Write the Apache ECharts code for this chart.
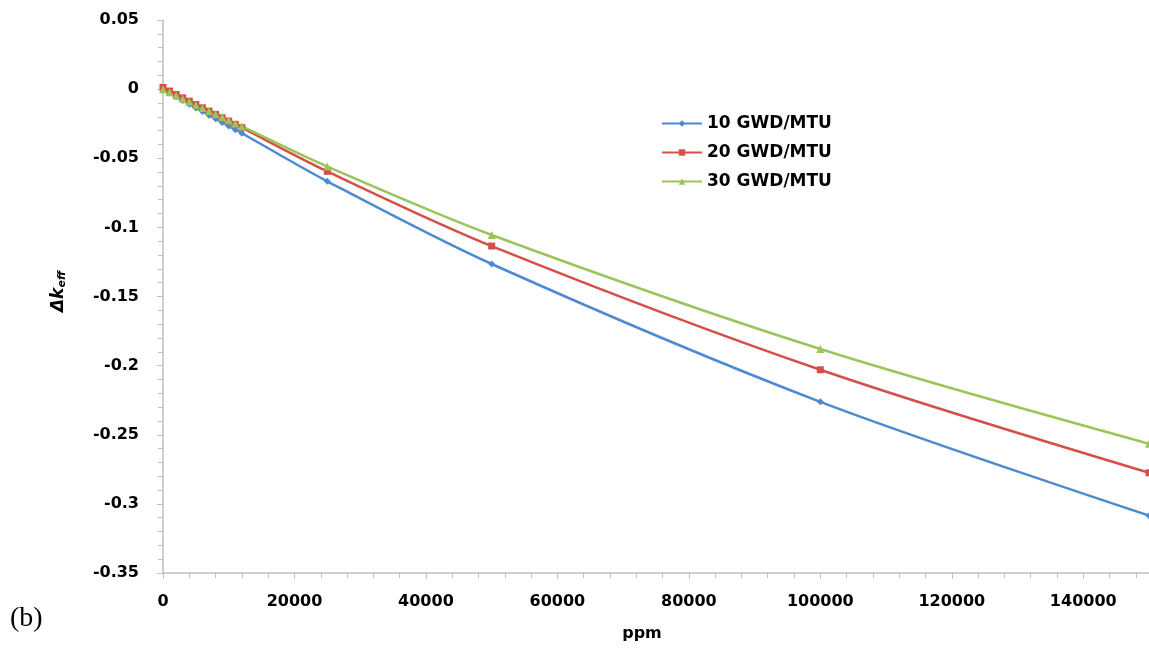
<!DOCTYPE html>
<html>
<head>
<meta charset="utf-8">
<script src="https://cdn.jsdelivr.net/npm/echarts@6/dist/echarts.min.js"></script>
<style>
  html, body { margin: 0; padding: 0; background: #fff; }
  #chart { width: 1149px; height: 650px; }
</style>
</head>
<body>
<div id="chart"></div>
<script>
// ppm sample points
var ppm = [0, 1000, 2000, 3000, 4000, 5000, 6000, 7000, 8000, 9000, 10000, 11000, 12000, 25000, 50000, 100000, 150000];

// delta k_eff
var gwd10 = [0, -0.0028, -0.0055, -0.0082, -0.0109, -0.0136, -0.0162, -0.0189, -0.0215, -0.0241, -0.0267, -0.0293, -0.0319, -0.0667, -0.1265, -0.2262, -0.3085];
var gwd20 = [0.0012, -0.0014, -0.0039, -0.0063, -0.0087, -0.0111, -0.0135, -0.0159, -0.0183, -0.0207, -0.0231, -0.0255, -0.0279, -0.0595, -0.1135, -0.2030, -0.2775];
var gwd30 = [0, -0.0023, -0.0046, -0.0069, -0.0091, -0.0114, -0.0136, -0.0159, -0.0181, -0.0203, -0.0226, -0.0248, -0.0270, -0.0560, -0.1055, -0.1880, -0.2565];

var seriesNames = ['10 GWD/MTU', '20 GWD/MTU', '30 GWD/MTU'];

function pairs(ys) {
  var out = [];
  for (var i = 0; i < ppm.length; i++) out.push([ppm[i], ys[i]]);
  return out;
}

var axisGrey = '#bfbfbf';
var labelFont = { fontFamily: 'DejaVu Sans', fontWeight: 'bold', fontSize: 16, color: '#000' };

var chart = echarts.init(document.getElementById('chart'));

var option = {
  animation: false,
  color: ['#4E8AD2', '#D55048', '#9BC45A'],
  grid: { left: 163, top: 20, right: 0, bottom: 77, containLabel: false },
  legend: {
    orient: 'vertical',
    left: 656,
    top: 110,
    itemWidth: 40,
    itemHeight: 8,
    itemGap: 12,
    textStyle: { fontFamily: 'DejaVu Sans', fontWeight: 'bold', fontSize: 17, color: '#000' },
    data: seriesNames
  },
  xAxis: {
    type: 'value',
    min: 0,
    max: 150000,
    interval: 20000,
    name: 'ppm',
    nameLocation: 'middle',
    nameGap: 53,
    nameTextStyle: Object.assign({ padding: [0, 28, 0, 0] }, labelFont),
    axisLine: { show: true, onZero: false, lineStyle: { color: axisGrey, width: 1.5 } },
    axisTick: { show: true, length: 6, lineStyle: { color: axisGrey } },
    minorTick: { show: true, splitNumber: 5, length: 5, lineStyle: { color: axisGrey } },
    axisLabel: Object.assign({ margin: 21, showMaxLabel: false, formatter: function (v) { return String(v); } }, labelFont),
    splitLine: { show: false }
  },
  yAxis: {
    type: 'value',
    min: -0.35,
    max: 0.05,
    interval: 0.05,
    name: '{a|Δk}{b|eff}',
    nameLocation: 'middle',
    nameRotate: 90,
    nameGap: 95,
    nameTextStyle: {
      padding: [0, 0, 0, 10],
      rich: {
        a: { fontFamily: 'DejaVu Sans', fontWeight: 'bold', fontStyle: 'italic', fontSize: 17, color: '#000' },
        b: { fontFamily: 'DejaVu Sans', fontWeight: 'bold', fontStyle: 'italic', fontSize: 11, color: '#000', padding: [8, 0, 0, 0] }
      }
    },
    axisLine: { show: true, onZero: false, lineStyle: { color: axisGrey, width: 1.5 } },
    axisTick: { show: true, length: 6, lineStyle: { color: axisGrey } },
    minorTick: { show: true, splitNumber: 5, length: 5, lineStyle: { color: axisGrey } },
    axisLabel: Object.assign({ margin: 24, formatter: function (v) { return String(Math.round(v * 100) / 100); } }, labelFont),
    splitLine: { show: false }
  },
  series: [
    {
      name: seriesNames[0], type: 'line', smooth: 0.3,
      symbol: 'diamond', symbolSize: 7,
      lineStyle: { width: 2.5 },
      data: pairs(gwd10)
    },
    {
      name: seriesNames[1], type: 'line', smooth: 0.3,
      symbol: 'rect', symbolSize: 7,
      lineStyle: { width: 2.5 },
      data: pairs(gwd20)
    },
    {
      name: seriesNames[2], type: 'line', smooth: 0.3,
      symbol: 'triangle', symbolSize: 8,
      lineStyle: { width: 2.5 },
      data: pairs(gwd30)
    }
  ],
  graphic: [
    {
      type: 'text', left: 10, top: 605,
      style: { text: '(b)', fontFamily: 'Liberation Serif', fontSize: 28, fill: '#000' }
    }
  ]
};

chart.setOption(option);
</script>
</body>
</html>
